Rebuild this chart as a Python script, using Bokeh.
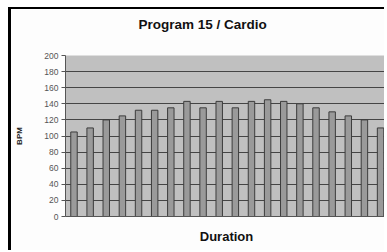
from bokeh.plotting import figure
from bokeh.models import Range1d, FixedTicker, ColumnDataSource, Title, InlineStyleSheet
from bokeh.embed import file_html
from bokeh.resources import INLINE

categories = [str(i) for i in range(1, 21)]
bpm = [105, 110, 120, 125, 132, 132, 135, 143, 135, 143,
       135, 143, 145, 143, 140, 135, 130, 125, 120, 110]
y_ticks = [0, 20, 40, 60, 80, 100, 120, 140, 160, 180, 200]

src = ColumnDataSource(dict(x=list(range(len(categories))), top=bpm))

p = figure(width=376, height=243, output_backend="svg", toolbar_location=None,
           x_range=Range1d(-0.527, 19.43), y_range=Range1d(0, 200),
           min_border_left=54, min_border_right=0, min_border_top=46,
           min_border_bottom=36)
p.stylesheets = [InlineStyleSheet(css=":host { margin-left: 8px !important; margin-top: 7px !important; "
                                      "border-left: 3px solid #000 !important; "
                                      "border-top: 2px solid #000 !important; }")]
p.background_fill_color = "#c0c0c0"
p.border_fill_color = "#fdfdfd"
p.outline_line_color = None

p.vbar(x="x", top="top", width=0.40, source=src,
       fill_color="#9a9a9a", line_color="#3c3c3c", line_width=1)

spacer = Title(text=" ", text_font_size="7px")
p.add_layout(spacer, "above")
title = Title(text="Program 15 / Cardio", align="left", offset=73,
              text_font="Liberation Sans", text_font_size="13.5px",
              text_font_style="bold", text_color="#111")
p.add_layout(title, "above")

p.xgrid.grid_line_color = None
p.ygrid.grid_line_color = "#454545"
p.ygrid.grid_line_width = 1
p.ygrid.ticker = FixedTicker(ticks=y_ticks)

p.yaxis.ticker = FixedTicker(ticks=y_ticks)
p.yaxis.axis_label = "BPM"
p.yaxis.axis_label_text_font = "Liberation Sans"
p.yaxis.axis_label_text_font_size = "8px"
p.yaxis.axis_label_text_font_style = "bold"
p.yaxis.axis_label_text_color = "#222"
p.yaxis.axis_label_standoff = 17
p.yaxis.major_label_text_font = "Liberation Sans"
p.yaxis.major_label_text_font_size = "8.5px"
p.yaxis.major_label_text_color = "#555"
p.yaxis.major_label_standoff = 3
p.yaxis.major_tick_out = 4
p.yaxis.major_tick_in = 0
p.yaxis.minor_tick_line_color = None
p.yaxis.axis_line_color = "#555"
p.yaxis.major_tick_line_color = "#555"

p.xaxis.ticker = FixedTicker(ticks=[])
p.xaxis.axis_label = "Duration"
p.xaxis.axis_label_text_font = "Liberation Sans"
p.xaxis.axis_label_text_font_size = "13px"
p.xaxis.axis_label_text_font_style = "bold"
p.xaxis.axis_label_text_color = "#111"
p.xaxis.axis_label_standoff = 12
p.xaxis.axis_line_color = "#555"
p.xaxis.major_tick_line_color = None
p.xaxis.minor_tick_line_color = None

open("out.html", "w").write(file_html(p, INLINE))
